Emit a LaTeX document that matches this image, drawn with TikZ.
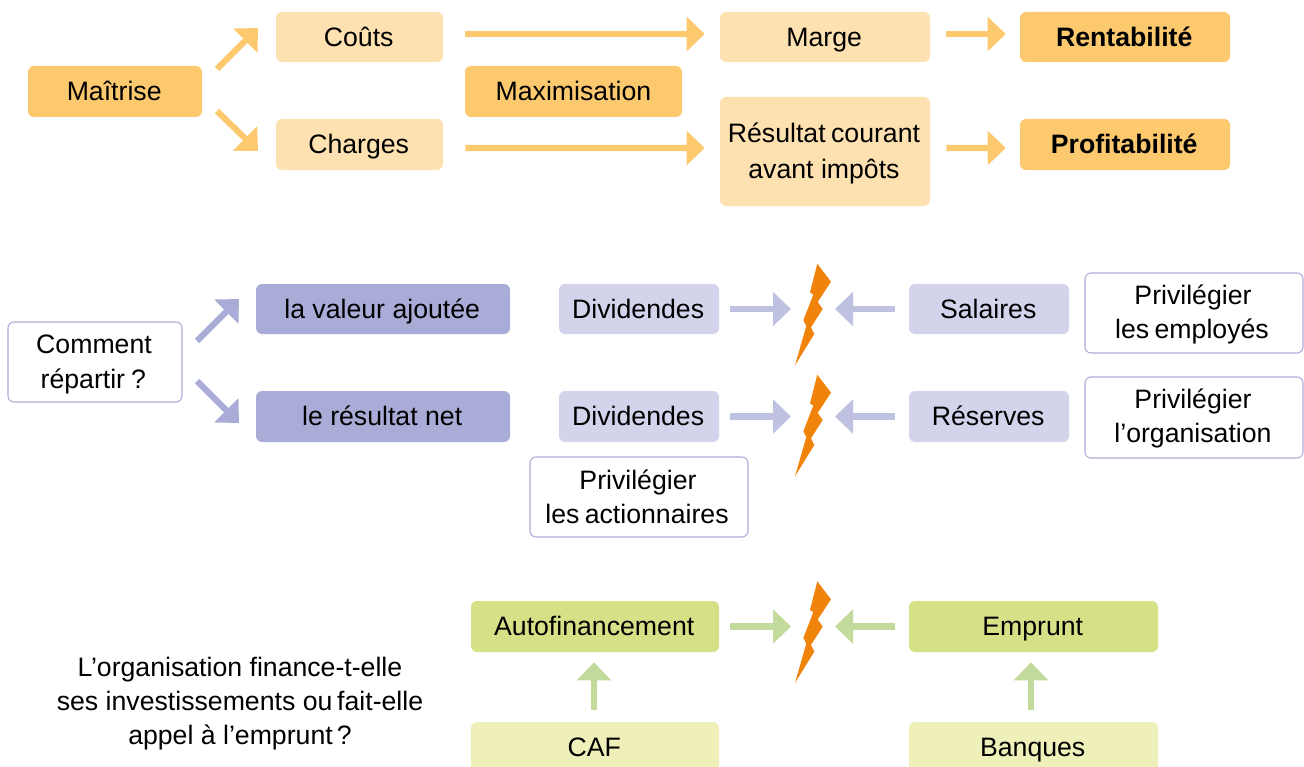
\documentclass[tikz,border=0pt]{standalone}
\usepackage{fontspec}
\setmainfont{Liberation Sans}
\usetikzlibrary{arrows.meta}
\definecolor{orA}{HTML}{FCC96E}
\definecolor{orB}{HTML}{FEE1B0}
\definecolor{puA}{HTML}{A9ACD6}
\definecolor{puB}{HTML}{D3D4EC}
\definecolor{puC}{HTML}{BFC1E1}
\definecolor{grA}{HTML}{D6E086}
\definecolor{grB}{HTML}{EFF0B9}
\definecolor{grC}{HTML}{C3DA9D}
\definecolor{boltc}{HTML}{F0830A}
\tikzset{
  x=0.75pt,y=-0.75pt,
  box/.style={rounded corners=4.5pt,align=center,inner sep=0pt,font=\fontsize{20}{25.5}\selectfont,text=black},
  single/.style={text height=14.5pt,text depth=0.4pt},
  multi/.style={text height=#1,text depth=0pt},
  boxorA/.style={box,fill=orA},
  boxorB/.style={box,fill=orB},
  boxpuA/.style={box,fill=puA},
  boxpuB/.style={box,fill=puB},
  boxgrA/.style={box,fill=grA},
  boxgrB/.style={box,fill=grB},
  boxwh/.style={box,fill=white,draw=puA,line width=0.8pt},
  blockarrow/.style={line width=4.6pt,-{Triangle[length=13.5pt,width=25pt]}},
  blockor/.style={blockarrow,draw=orA},
  blockpu/.style={blockarrow,draw=puC},
  blockpd/.style={blockarrow,draw=puA},
  blockgr/.style={blockarrow,draw=grC},
  plain/.style={inner sep=0pt,align=center,font=\fontsize{20}{25.5}\selectfont}
}
\newcommand{\mybox}[7]{% style,name,x0,y0,x1,y1,text
  \node[#1,minimum width={(#5-#3)*0.75pt},minimum height={(#6-#4)*0.75pt}] (#2) at ({(#3+#5)/2},{(#4+#6)/2}) {#7};}
\newcommand{\mybolt}[3]{% name, y of centre, y offset
  \coordinate (#1) at (813,#2);
  \fill[boltc,shift={(0,#3)}]
    (817.3,263.7)--(831,281.7)--(817.7,302)--(822.7,309)--(811,327.3)--(814.3,334)--(795,365.3)--(806.3,326)--(803.3,320.3)--(813.3,294.7)--(810,292.3)--cycle;}
\begin{document}
\begin{tikzpicture}
\useasboundingbox (0,0) rectangle (1304,767);
\clip (0,0) rectangle (1304,767);
% top block
\mybox{boxorA,single}{maitrise}{28}{66}{202}{117}{Maîtrise\kern1.2pt}
\mybox{boxorB,single}{couts}{276}{12}{443}{62}{Coûts\kern1.2pt}
\mybox{boxorB,single}{charges}{276}{119}{443}{170}{Charges\kern1.2pt}
\mybox{boxorA,single}{maximisation}{465}{66}{682}{117}{Maximisation}
\mybox{boxorB,single}{marge}{720}{12}{930}{62}{Marge\kern1.2pt}
\mybox{boxorB,multi=40.35pt}{resultat}{720}{97}{930}{206}{Résultat\kern-1.5pt\ courant\kern1.5pt\\[1.5pt]avant impôts\kern1.5pt}
\mybox{boxorA,single}{rentabilite}{1020}{12}{1230}{62}{\textbf{Rentabilité}\kern1.2pt}
\mybox{boxorA,single}{profitabilite}{1020}{119}{1230}{170}{\textbf{Profitabilité}\kern1.2pt}
\coordinate (d1s) at (217,69); \coordinate (d1e) at (258,28);
\coordinate (d2s) at (217,111); \coordinate (d2e) at (258,151);
\draw[blockor] (d1s) -- (d1e);
\draw[blockor] (d2s) -- (d2e);
\draw[blockor,shorten <=16.5pt,shorten >=11.25pt] ([yshift=2.25pt]couts.east) -- ([yshift=2.25pt]marge.west);
\draw[blockor,shorten <=16.5pt,shorten >=11.25pt] ([yshift=-2.6pt]charges.east) -- ([yshift=2.6pt]resultat.west);
\draw[blockor,shorten <=12pt,shorten >=10.5pt] ([yshift=2.25pt]marge.east) -- ([yshift=2.25pt]rentabilite.west);
\draw[blockor,shorten <=12pt,shorten >=10.5pt] ([yshift=2.6pt]resultat.east) -- ([yshift=-2.6pt]profitabilite.west);
% middle block
\mybox{boxwh,multi=39.6pt}{comment}{8}{322}{182}{402}{Comment\kern1.5pt\\[0.75pt]répartir\kern-1pt\ ?\kern2.5pt}
\mybox{boxpuA,single}{valeur}{256}{284}{510}{334}{la valeur ajoutée\kern1.2pt}
\mybox{boxpuA,single}{resnet}{256}{391}{510}{442}{le résultat net\kern1.2pt}
\mybox{boxpuB,single}{divA}{559}{284}{719}{334}{Dividendes\kern1.2pt}
\mybox{boxpuB,single}{divB}{559}{391}{719}{442}{Dividendes\kern1.2pt}
\mybox{boxpuB,single}{salaires}{909}{284}{1069}{334}{Salaires\kern1.2pt}
\mybox{boxpuB,single}{reserves}{909}{391}{1069}{442}{Réserves\kern1.2pt}
\mybox{boxwh,multi=38.1pt}{empl}{1085}{273}{1303}{353}{Privilégier\kern1.5pt\\les\kern-1.5pt\ employés\kern3pt}
\mybox{boxwh,multi=37.35pt}{orga}{1085}{377}{1303}{458}{Privilégier\kern1.5pt\\l’organisation\kern1.5pt}
\mybox{boxwh,multi=39.6pt}{action}{530}{457}{748}{537}{Privilégier\kern1.5pt\\les\kern-1.5pt\ actionnaires\kern3pt}
\mybolt{boltA}{309}{0}
\mybolt{boltB}{416.5}{111}
\coordinate (d3s) at (197,341); \coordinate (d3e) at (239,299);
\coordinate (d4s) at (197,381); \coordinate (d4e) at (239,423);
\draw[blockpd] (d3s) -- (d3e);
\draw[blockpd] (d4s) -- (d4e);
\draw[blockpu,shorten <=8.25pt,shorten >=16.5pt] (divA.east) -- (boltA);
\draw[blockpu,shorten <=10.5pt,shorten >=16.5pt] (salaires.west) -- (boltA);
\draw[blockpu,shorten <=8.25pt,shorten >=16.5pt] (divB.east) -- (boltB);
\draw[blockpu,shorten <=10.5pt,shorten >=16.5pt] (reserves.west) -- (boltB);
% bottom block
\node[plain] (question) at (240,704) {L’organisation finance-t-elle\\ses investissements ou\kern-2pt\ fait-elle\\appel à l’emprunt\kern-2.5pt\ ?};
\mybox{boxgrA,single}{auto}{471}{601}{719}{652}{Autofinancement\kern1.2pt}
\mybox{boxgrA,single}{emprunt}{909}{601}{1158}{652}{Emprunt\kern1.2pt}
\mybox{boxgrB,single}{caf}{471}{722}{719}{772}{CAF\kern1.2pt}
\mybox{boxgrB,single}{banques}{909}{722}{1158}{772}{Banques\kern1.2pt}
\mybolt{boltC}{626.5}{317.6}
\draw[blockgr,shorten <=8.25pt,shorten >=16.5pt] (auto.east) -- (boltC);
\draw[blockgr,shorten <=10.5pt,shorten >=16.5pt] (emprunt.west) -- (boltC);
\draw[blockgr,shorten <=9pt,shorten >=7.5pt] ([xshift=-0.75pt]caf.north) -- ([xshift=-0.75pt]auto.south);
\draw[blockgr,shorten <=9pt,shorten >=7.5pt] ([xshift=-1.9pt]banques.north) -- ([xshift=-1.9pt]emprunt.south);
\end{tikzpicture}
\end{document}
